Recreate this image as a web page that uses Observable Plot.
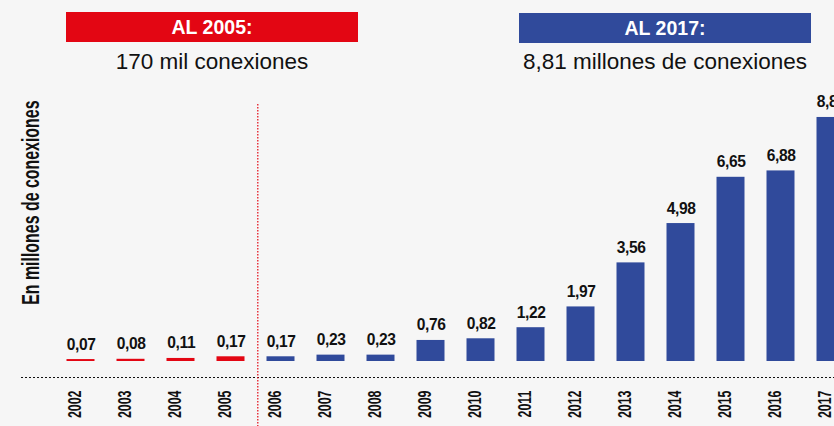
<!DOCTYPE html>
<html><head><meta charset="utf-8">
<script src="https://cdn.jsdelivr.net/npm/d3@7"></script>
<script src="https://cdn.jsdelivr.net/npm/@observablehq/plot@0.6"></script>
<style>
html,body{margin:0;padding:0;background:#f6f6f6;overflow:hidden;}
#wrap{position:relative;width:834px;height:426px;overflow:hidden;font-family:"Liberation Sans",Arial,sans-serif;}
#chart{position:absolute;left:0;top:0;width:834px;height:426px;overflow:hidden;}
.box{position:absolute;height:30px;display:flex;align-items:center;justify-content:center;color:#fff;font-weight:bold;font-size:19.5px;}
.sub{position:absolute;height:24px;line-height:24px;text-align:center;font-size:22.5px;color:#111;white-space:nowrap;}
</style></head><body>
<div id="wrap"><div id="chart"></div></div>
<script>
const years = ["2002","2003","2004","2005","2006","2007","2008","2009","2010","2011","2012","2013","2014","2015","2016","2017"];
const values = [0.07,0.08,0.11,0.17,0.17,0.23,0.23,0.76,0.82,1.22,1.97,3.56,4.98,6.65,6.88,8.81];
const periods = ["Hasta 2005","Desde 2006"];
const periodColors = ["#e30613","#304a9b"];
const headerTitles = ["AL 2005:","AL 2017:"];
const headerSubtitles = ["170 mil conexiones","8,81 millones de conexiones"];
const yLabel = "En millones de conexiones";

const data = years.map((year, i) => ({year, value: values[i], period: +year <= 2005 ? periods[0] : periods[1]}));
const fmt = v => v.toFixed(2).replace(".", ",");

const plot = Plot.plot({
  width: 834, height: 426,
  marginTop: 104, marginBottom: 49, marginLeft: 21, marginRight: 0,
  style: {background: "#f6f6f6", fontFamily: "Liberation Sans, Arial, sans-serif", overflow: "hidden"},
  x: {type: "band", domain: years, range: [44.5, 866.5], padding: 0.44, round: false, axis: null},
  y: {domain: [0, 10], range: [361, 84], axis: null},
  color: {domain: periods, range: periodColors},
  marks: [
    Plot.ruleY([0], {dy: 16, stroke: "#111", strokeWidth: 1, strokeDasharray: "2,2"}),
    Plot.ruleX([years[3]], {dx: 26.8, stroke: periodColors[0], strokeWidth: 1.2, strokeDasharray: "1.5,1.5", insetBottom: -49}),
    Plot.barY(data, {x: "year", y: "value", fill: "period"}),
    Plot.text(data, {x: "year", y: "value", text: d => fmt(d.value), lineAnchor: "bottom", dy: -10, dx: 0.2, fontSize: 15.6, fontWeight: "bold", fill: "#111"}),
    Plot.text(data, {x: "year", frameAnchor: "bottom", text: "year", rotate: -90, textAnchor: "end", dy: 13, fontSize: 18, fontWeight: "bold", fill: "#111"}),
    Plot.text([yLabel], {frameAnchor: "top-left", text: d => d, rotate: -90, textAnchor: "end", dy: -4, fontSize: 24.7, fontWeight: "bold", fill: "#111"})
  ]
});
document.getElementById("chart").appendChild(plot);

// condense rotated labels (narrow bold typeface)
const squeeze = (sel, k) => d3.select(plot).selectAll(sel).attr("transform", function() {
  return (this.getAttribute("transform") || "") + ` scale(${k},1)`;
});
squeeze('g[font-size="18"] text', 0.69);
squeeze('g[font-size="24.7"] text', 0.645);
d3.select(plot).selectAll('g[font-size="15.6"]').attr("letter-spacing", "-0.4");

// headers
const wrap = document.getElementById("wrap");
const boxes = [{left: 66, top: 12}, {left: 519, top: 13}];
boxes.forEach((b, i) => {
  const t = document.createElement("div");
  t.className = "box";
  t.style.left = b.left + "px"; t.style.top = b.top + "px"; t.style.width = "292px";
  t.style.background = periodColors[i];
  t.textContent = headerTitles[i];
  wrap.appendChild(t);
  const s = document.createElement("div");
  s.className = "sub";
  s.style.left = (b.left - 20) + "px"; s.style.top = "49.5px"; s.style.width = "332px";
  s.textContent = headerSubtitles[i];
  wrap.appendChild(s);
});
</script>
</body></html>
